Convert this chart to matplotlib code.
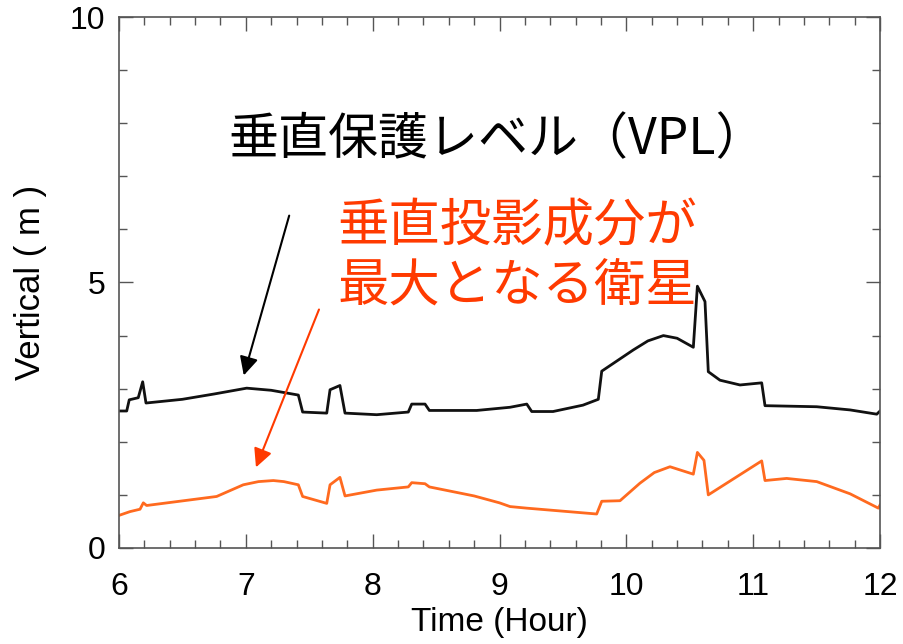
import matplotlib
matplotlib.use("Agg")
import matplotlib.pyplot as plt
from matplotlib.ticker import MultipleLocator

# --- data ---
vpl_t = [6.008, 6.061, 6.081, 6.152, 6.187, 6.213, 6.50, 6.75, 7.007, 7.20, 7.414,
         7.448, 7.638, 7.664, 7.742, 7.782, 8.032, 8.281, 8.308, 8.413, 8.447,
         8.82, 9.083, 9.215, 9.254, 9.422, 9.658, 9.779, 9.806, 10.055, 10.17,
         10.292, 10.40, 10.528, 10.56, 10.62, 10.646, 10.738, 10.896, 11.067,
         11.093, 11.501, 11.764, 11.974, 12.0]
vpl_v = [2.58, 2.58, 2.79, 2.83, 3.13, 2.73, 2.80, 2.90, 3.01, 2.97, 2.88,
         2.56, 2.54, 2.98, 3.06, 2.54, 2.51, 2.56, 2.71, 2.71, 2.59,
         2.59, 2.65, 2.71, 2.57, 2.57, 2.69, 2.80, 3.33, 3.73, 3.90,
         4.00, 3.95, 3.78, 4.93, 4.64, 3.32, 3.16, 3.07, 3.11,
         2.68, 2.66, 2.60, 2.52, 2.58]

sat_t = [6.008, 6.087, 6.166, 6.192, 6.218, 6.77, 6.98, 7.10, 7.217, 7.30, 7.414,
         7.448, 7.638, 7.664, 7.742, 7.782, 8.032, 8.281, 8.308, 8.413, 8.447,
         8.80, 9.00, 9.083, 9.215, 9.766, 9.806, 9.95, 10.107, 10.22, 10.344,
         10.528, 10.56, 10.612, 10.646, 11.067, 11.093, 11.264, 11.501, 11.764,
         11.987, 12.0]
sat_v = [0.62, 0.685, 0.73, 0.85, 0.80, 0.97, 1.19, 1.25, 1.27, 1.25, 1.19,
         0.97, 0.84, 1.19, 1.33, 0.98, 1.09, 1.15, 1.23, 1.21, 1.15,
         0.98, 0.85, 0.78, 0.75, 0.64, 0.88, 0.89, 1.22, 1.42, 1.53,
         1.39, 1.80, 1.65, 1.00, 1.64, 1.27, 1.31, 1.25, 1.02,
         0.75, 0.81]

xlim = (6, 12)
ylim = (0, 10)
x_label = "Time (Hour)"
y_label = "Vertical ( m )"
label_vpl = "垂直保護レベル（VPL）"
label_sat = "垂直投影成分が\n最大となる衛星"

BLACK = "#111111"
ORANGE = "#FF6A1F"
RED = "#FF3A00"
AXC = "#555555"

plt.rcParams['font.family'] = ['Liberation Sans', 'DejaVu Sans']
fig = plt.figure(figsize=(9.04, 6.44), dpi=100)
ax = fig.add_axes([0.1316, 0.1491, 0.8419, 0.8245])

ax.plot(vpl_t, vpl_v, color=BLACK, lw=2.0)
ax.plot(sat_t, sat_v, color=ORANGE, lw=2.0)

ax.set_xlim(*xlim)
ax.set_ylim(*ylim)
ax.xaxis.set_major_locator(MultipleLocator(1))
ax.xaxis.set_minor_locator(MultipleLocator(0.2))
ax.yaxis.set_major_locator(MultipleLocator(5))
ax.yaxis.set_minor_locator(MultipleLocator(1))
ax.tick_params(which='both', direction='in', top=True, right=True, color=AXC, width=1.0)
ax.tick_params(which='major', length=10, labelsize=23)
ax.tick_params(which='minor', length=6)
ax.tick_params(axis='x', which='major', pad=17)
ax.tick_params(axis='y', which='major', pad=10)
for s in ax.spines.values():
    s.set_color(AXC)
    s.set_linewidth(1.2)

ax.set_xlabel(x_label, fontsize=24, labelpad=4)
ax.set_ylabel(y_label, fontsize=25, labelpad=16)

jp = ['Noto Sans CJK JP', 'DejaVu Sans']
ax.text(8.98, 7.68, label_vpl, fontsize=36, color='black', family=jp,
        ha='center', va='center')
ax.text(7.72, 5.5, label_sat, fontsize=37, color=RED, family=jp,
        ha='left', va='center', linespacing=1.15)

ax.annotate("", xy=(6.978, 3.20), xytext=(7.348, 6.31),
            arrowprops=dict(arrowstyle='-|>', color='black', lw=1.5, mutation_scale=28))
ax.annotate("", xy=(7.072, 1.47), xytext=(7.585, 4.54),
            arrowprops=dict(arrowstyle='-|>', color=RED, lw=1.5, mutation_scale=28))

fig.savefig("out.png", dpi=100)
